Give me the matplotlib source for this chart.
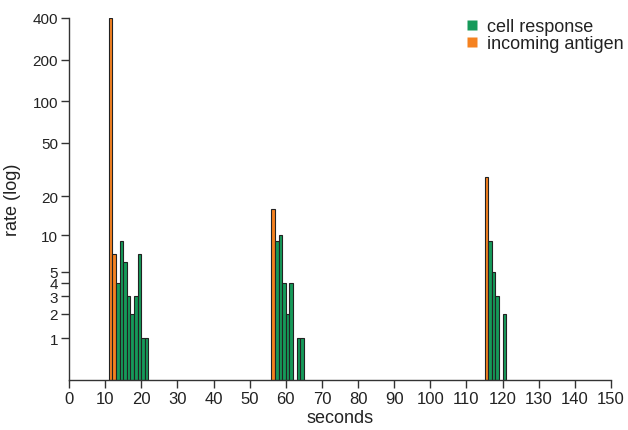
import matplotlib
matplotlib.use("Agg")
import matplotlib.pyplot as plt
from matplotlib.lines import Line2D
import numpy as np

plt.rcParams['font.family'] = ['Liberation Sans', 'DejaVu Sans']

# incoming antigen bars (second, rate)
antigen_t = [11, 12, 56, 115]
antigen_rate = [400, 7, 16, 28]

# cell response bars (second, rate)
response_t = [13, 14, 15, 16, 17, 18, 19, 20, 21,
              57, 58, 59, 60, 61, 63, 64,
              116, 117, 118, 120]
response_rate = [4, 9, 6, 3, 2, 3, 7, 1, 1,
                 9, 10, 4, 2, 4, 1, 1,
                 9, 5, 3, 2]

y_ticks = [1, 2, 3, 4, 5, 10, 20, 50, 100, 200, 400]
x_ticks = list(range(0, 151, 10))

GREEN = "#169a5a"
ORANGE = "#f58220"

fig = plt.figure(figsize=(6.28, 4.31), dpi=100)
ax = fig.add_axes([69 / 628, 1 - 381 / 431, (611 - 69) / 628, (381 - 19) / 431])

# symlog-style scale: log(1 + x)
ax.set_yscale('function', functions=(np.log1p, np.expm1))

ax.bar(antigen_t, antigen_rate, width=1, align='edge', color=ORANGE,
       edgecolor='#222222', linewidth=0.8, zorder=2)
ax.bar(response_t, response_rate, width=1, align='edge', color=GREEN,
       edgecolor='#222222', linewidth=0.8, zorder=2)

ax.set_xlim(0, 150)
ax.set_ylim(0, 400)
ax.set_xticks(x_ticks)
ax.set_yticks(y_ticks)
ax.set_yticklabels([str(v) for v in y_ticks])
ax.minorticks_off()
ax.tick_params(axis='both', length=6, width=1, color='#333333',
               labelcolor='#222222', pad=2)
ax.tick_params(axis='x', labelsize=12)
ax.tick_params(axis='y', labelsize=11)

for s in ['top', 'right']:
    ax.spines[s].set_visible(False)
for s in ['left', 'bottom']:
    ax.spines[s].set_color('#333333')
    ax.spines[s].set_linewidth(1)

ax.set_xlabel("seconds", fontsize=13, color='#222222', labelpad=2)
ax.set_ylabel("rate (log)", fontsize=13, color='#222222', labelpad=8)

handles = [Line2D([], [], marker='s', linestyle='none', markersize=7,
                  markerfacecolor=GREEN, markeredgecolor='none'),
           Line2D([], [], marker='s', linestyle='none', markersize=7,
                  markerfacecolor=ORANGE, markeredgecolor='none')]
leg = fig.legend(handles, ["cell response", "incoming antigen"],
                 loc='upper left', bbox_to_anchor=(458 / 628, 1 - 10 / 431),
                 frameon=False, fontsize=13, handlelength=0.6,
                 handletextpad=0.5, labelspacing=0.0, borderpad=0)
for t in leg.get_texts():
    t.set_color('#222222')

fig.savefig("out.png", dpi=100)
